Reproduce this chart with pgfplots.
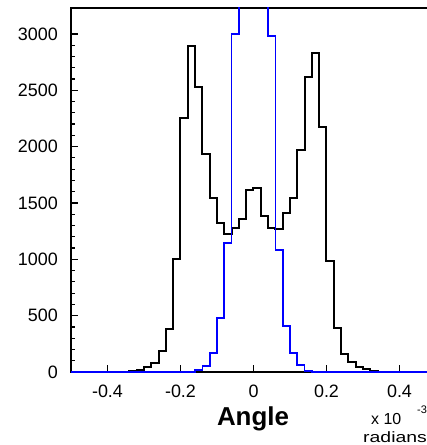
\documentclass[border=0pt]{standalone}
\usepackage{fontspec}
\setmainfont{Liberation Sans}
\usepackage{pgfplots}
\pgfplotsset{compat=1.18}
\begin{document}
\begin{tikzpicture}
\useasboundingbox (-71bp,-73bp) rectangle (356bp,372bp);
\begin{scope}[overlay]
\begin{axis}[
  at={(0,0)}, anchor=south west,
  scale only axis, width=365bp, height=364bp,
  xmin=-0.5, xmax=0.5, ymin=0, ymax=3230,
  xtick={-0.4,-0.2,0,0.2,0.4}, xticklabels={-0.4,-0.2,0,0.2,0.4},
  ytick={0,500,1000,1500,2000,2500,3000},
  yticklabels={0,500,1000,1500,2000,2500,3000},
  minor y tick num=4,
  tick pos=left, tick align=inside,
  major tick length=6.5bp, minor tick length=3.5bp,
  axis line style={line width=1.6bp},
  tick style={black, line width=1.2bp},
  tick label style={font=\fontsize{18}{20}\selectfont, inner sep=0pt},
  xticklabel style={yshift=-13bp},
  yticklabel style={xshift=-13bp},
]
\addplot[const plot, black, line width=2bp] coordinates {
(-0.5,0) (-0.38,1) (-0.36,3) (-0.34,8) (-0.32,15) (-0.30,40) (-0.28,83)
(-0.26,186) (-0.24,379) (-0.22,1007) (-0.20,2252) (-0.18,2893) (-0.16,2527)
(-0.14,1932) (-0.12,1547) (-0.10,1320) (-0.08,1228) (-0.06,1275) (-0.04,1355)
(-0.02,1615) (0.00,1630) (0.02,1385) (0.04,1281) (0.06,1269) (0.08,1408)
(0.10,1547) (0.12,1970) (0.14,2616) (0.16,2829) (0.18,2177) (0.20,985)
(0.22,393) (0.24,160) (0.26,91) (0.28,47) (0.30,24) (0.32,8) (0.34,3)
(0.36,1) (0.38,0) (0.5,0)};
\addplot[const plot, blue, line width=1.7bp] coordinates {
(-0.5,0) (-0.16,20) (-0.14,53) (-0.12,166) (-0.10,480) (-0.08,1142)
(-0.06,3000) (-0.04,5200) (-0.02,6300) (0.00,6300) (0.02,5200) (0.04,2982)
(0.06,1083) (0.08,408) (0.10,166) (0.12,62) (0.14,9) (0.16,0) (0.5,0)};
\end{axis}
\node[anchor=base, font=\fontsize{26}{28}\selectfont\bfseries] at (182bp,-53bp) {Angle};
\node[anchor=base west, font=\fontsize{16}{18}\selectfont, inner sep=0pt] at (300bp,-52bp) {x 10};
\node[anchor=base west, font=\fontsize{11}{13}\selectfont, inner sep=0pt] at (346bp,-41bp) {-3};
\node[anchor=base west, font=\fontsize{15}{17}\selectfont, inner sep=0pt] at (292bp,-70bp) {\scalebox{1.3}[1]{radians}};
\end{scope}
\end{tikzpicture}
\end{document}
